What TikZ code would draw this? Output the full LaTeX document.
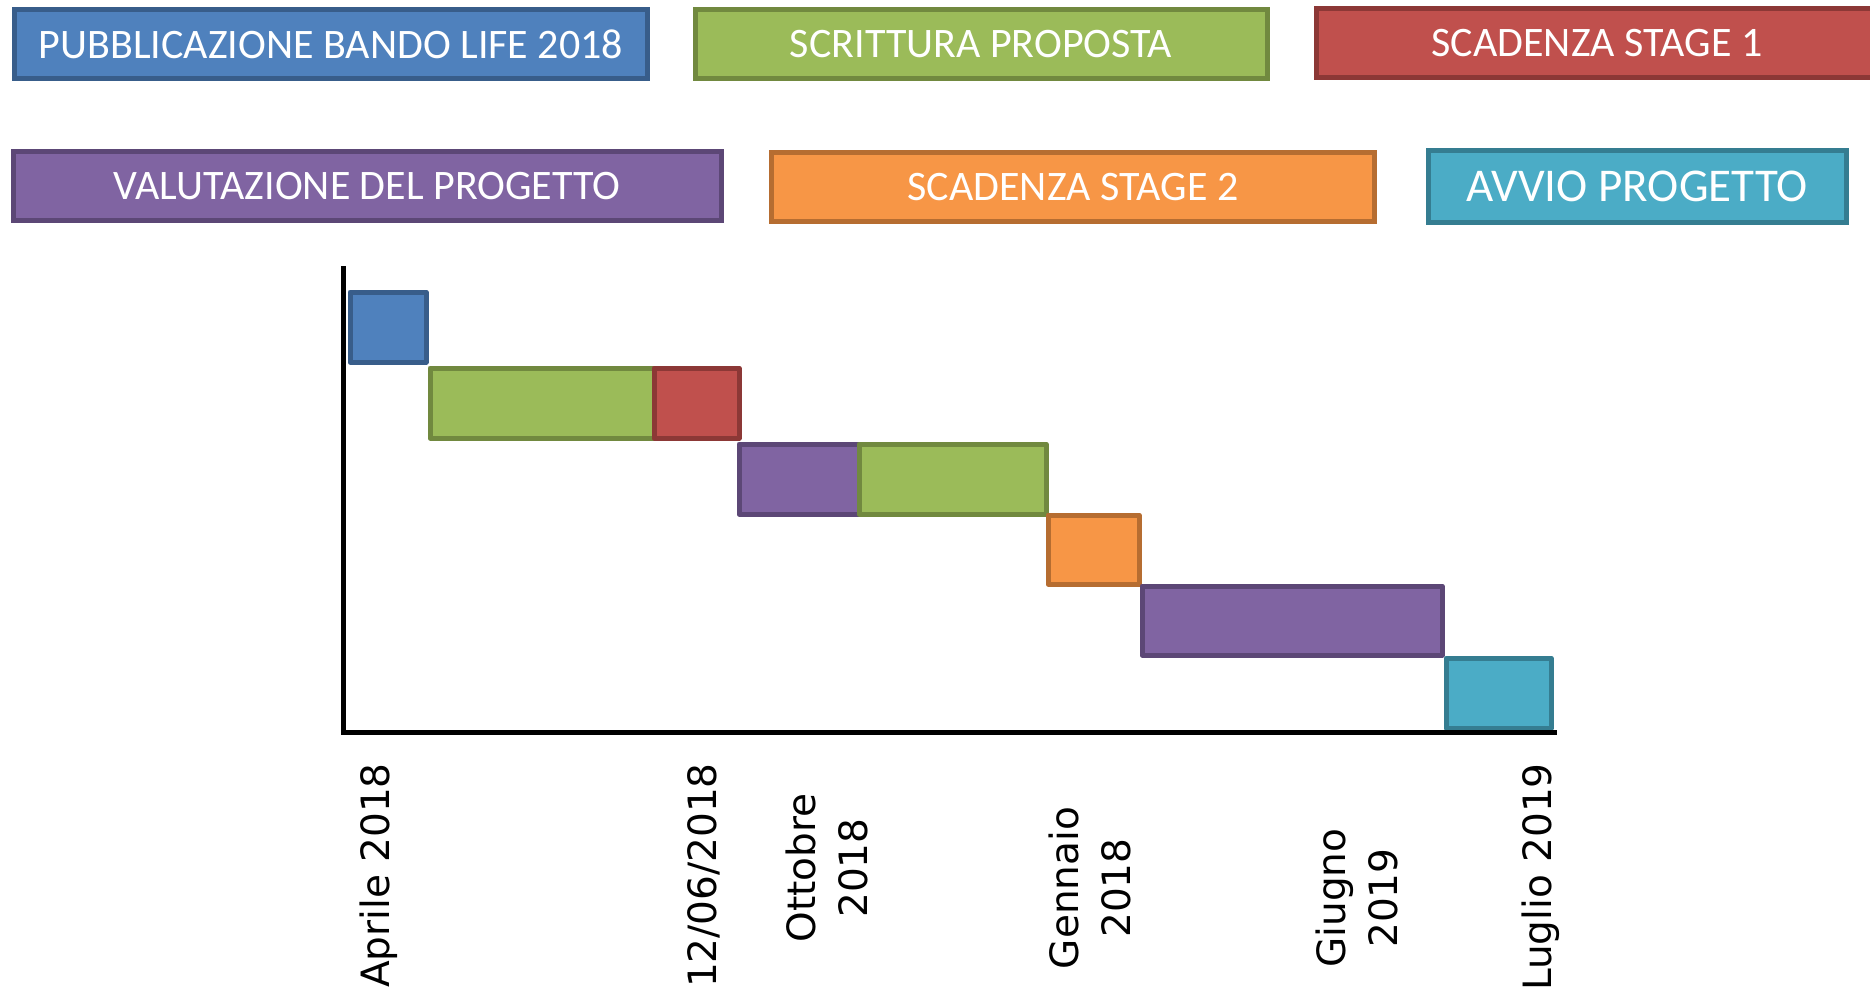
\documentclass[tikz,border=0pt]{standalone}
\usepackage{fontspec}
\setmainfont{Carlito}
\newfontfamily\axisfont{DejaVu Sans}
\definecolor{GanttBlue}{HTML}{4F81BD}
\definecolor{GanttBlueEdge}{HTML}{385D8A}
\definecolor{GanttGreen}{HTML}{9BBB59}
\definecolor{GanttGreenEdge}{HTML}{71893F}
\definecolor{GanttRed}{HTML}{C0504D}
\definecolor{GanttRedEdge}{HTML}{8C3836}
\definecolor{GanttPurple}{HTML}{8064A2}
\definecolor{GanttPurpleEdge}{HTML}{5C4776}
\definecolor{GanttOrange}{HTML}{F79646}
\definecolor{GanttOrangeEdge}{HTML}{B66D31}
\definecolor{GanttAqua}{HTML}{4BACC6}
\definecolor{GanttAquaEdge}{HTML}{357D91}

\begin{document}
\begin{tikzpicture}[x=1pt, y=-1pt, every node/.style={text=white, font=\fontsize{42}{50}\selectfont},
		legend/.style={draw, line width=5pt, inner sep=0pt, minimum height=69pt},
		bar/.style={line width=5pt, line join=round},
		datelabel/.style={rotate=90, text=black, inner sep=0pt, align=center, font=\axisfont\fontsize{39}{52}\selectfont}]
			\useasboundingbox (0,0) rectangle (1870,990);
			
			\node[legend, fill=GanttBlue, draw=GanttBlueEdge, minimum width=633pt] (pubblicazione) at (331,44) {PUBBLICAZIONE BANDO LIFE 2018};
			\node[legend, fill=GanttGreen, draw=GanttGreenEdge, minimum width=572pt] (scrittura) at (981,44) {SCRITTURA PROPOSTA};
			\node[legend, fill=GanttRed, draw=GanttRedEdge, minimum width=561pt, minimum height=68pt] (stageuno) at (1597,43) {SCADENZA STAGE 1};
			\node[legend, fill=GanttPurple, draw=GanttPurpleEdge, minimum width=708pt] (valutazione) at (367,186) {VALUTAZIONE DEL PROGETTO};
			\node[legend, fill=GanttOrange, draw=GanttOrangeEdge, minimum width=603pt] (stagedue) at (1073,187) {SCADENZA STAGE 2};
			\node[legend, fill=GanttAqua, draw=GanttAquaEdge, minimum width=418pt, minimum height=72pt, font=\fontsize{47}{56}\selectfont] (avvio) at (1637,186) {AVVIO PROGETTO};
			
			\draw[bar, fill=GanttBlue, draw=GanttBlueEdge] (350,292) rectangle (426,362);
			\draw[bar, fill=GanttGreen, draw=GanttGreenEdge] (430,368) rectangle (654,438);
			\draw[bar, fill=GanttRed, draw=GanttRedEdge] (654,368) rectangle (739,438);
			\draw[bar, fill=GanttPurple, draw=GanttPurpleEdge] (739,444) rectangle (859,514);
			\draw[bar, fill=GanttGreen, draw=GanttGreenEdge] (859,444) rectangle (1046,514);
			\draw[bar, fill=GanttOrange, draw=GanttOrangeEdge] (1048,515) rectangle (1139,584);
			\draw[bar, fill=GanttPurple, draw=GanttPurpleEdge] (1142,586) rectangle (1442,655);
			\draw[bar, fill=GanttAqua, draw=GanttAquaEdge] (1446,658) rectangle (1551,728);
			
			\draw[line width=5pt] (343,266) -- (343,732) -- (1557,732);
			
			\node[datelabel, anchor=east] (aprile) at (379,763) {Aprile 2018};
			\node[datelabel, anchor=east] (giugnodata) at (704,763) {12/06/2018};
			\node[datelabel] (ottobre) at (827,868) {Ottobre\\2018};
			\node[datelabel] (gennaio) at (1090,888) {Gennaio\\2018};
			\node[datelabel] (giugno) at (1357,898) {Giugno\\2019};
			\node[datelabel, anchor=east] (luglio) at (1541,763) {Luglio 2019};
		\end{tikzpicture}
\end{document}
